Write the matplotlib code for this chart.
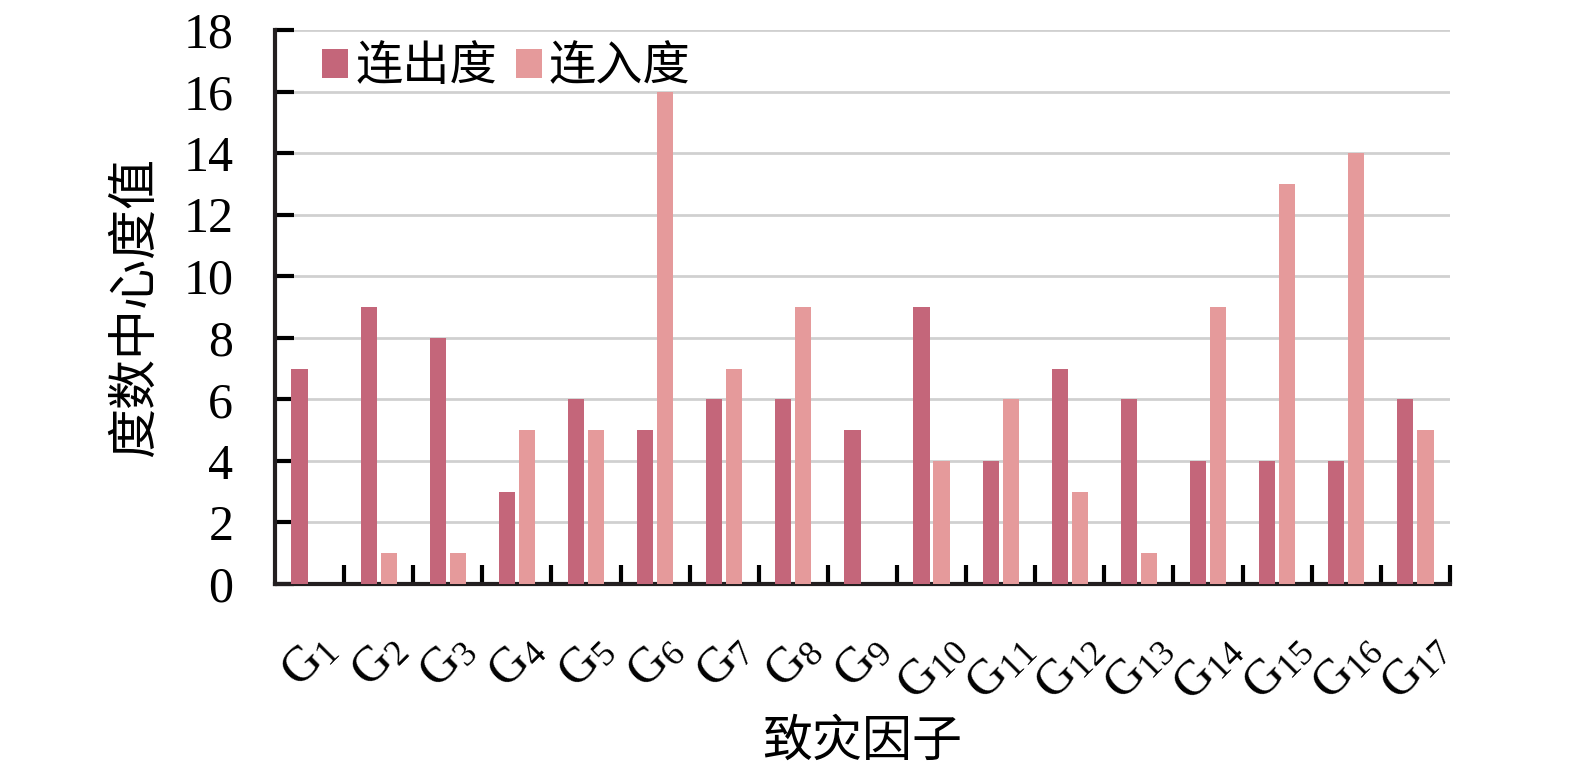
import numpy as np
import matplotlib.pyplot as plt

# 致灾因子及度中心度
factors = ["G$_{%d}$" % i for i in range(1, 18)]
out_degree = [7, 9, 8, 3, 6, 5, 6, 6, 5, 9, 4, 7, 6, 4, 4, 4, 6]
in_degree = [0, 1, 1, 5, 5, 16, 7, 9, 0, 4, 6, 3, 1, 9, 13, 14, 5]

plt.rcParams['font.family'] = ['Liberation Serif', 'Noto Sans CJK SC']
plt.rcParams['mathtext.fontset'] = 'custom'
plt.rcParams['mathtext.rm'] = 'Liberation Serif'
plt.rcParams['mathtext.it'] = 'Liberation Serif'

fig = plt.figure(figsize=(15.75, 7.68), dpi=100)
ax = fig.add_axes([0.1746, 0.2396, 0.7460, 0.7214])

x = np.arange(len(factors))
w = 0.235
ax.bar(x - 0.145, out_degree, w, color="#C4667A", label="连出度", zorder=3)
ax.bar(x + 0.145, in_degree, w, color="#E59A9B", label="连入度", zorder=3)

ax.set_xlim(-0.5, len(factors) - 0.5)
ax.set_ylim(0, 18)
ax.set_yticks(range(0, 19, 2))
ax.yaxis.grid(True, color="#D0D0D0", linewidth=2, zorder=0)

# 刻度
ax.set_xticks(np.arange(0.5, len(factors), 1), minor=True)
ax.tick_params(axis="x", which="minor", direction="in", length=14, width=3)
ax.tick_params(axis="x", which="major", length=0, pad=30, labelsize=36, labelrotation=45)
ax.tick_params(axis="y", direction="in", length=14, width=3, labelsize=36, pad=30)
ax.set_xticks(x)
ax.set_xticklabels(factors)
for lab in ax.get_xticklabels():
    lab.set_rotation(45)
    lab.set_ha("center")
    lab.set_va("top")

for s in ["top", "right"]:
    ax.spines[s].set_visible(False)
for s in ["left", "bottom"]:
    ax.spines[s].set_linewidth(3)
    ax.spines[s].set_color("#231F20")

ax.set_ylabel("度数中心度值", family=['Noto Sans CJK SC'], fontsize=36, labelpad=16)
ax.set_xlabel("致灾因子", family=['Noto Sans CJK SC'], fontsize=36, labelpad=4)

ax.legend(loc="upper left", ncol=2, frameon=False, prop={'family': 'Noto Sans CJK SC', 'size': 34},
          handlelength=0.55, handleheight=0.55, handletextpad=0.15, columnspacing=0.4,
          borderaxespad=0.1, bbox_to_anchor=(0.02, 1.02))

fig.savefig("out.png", dpi=100)
